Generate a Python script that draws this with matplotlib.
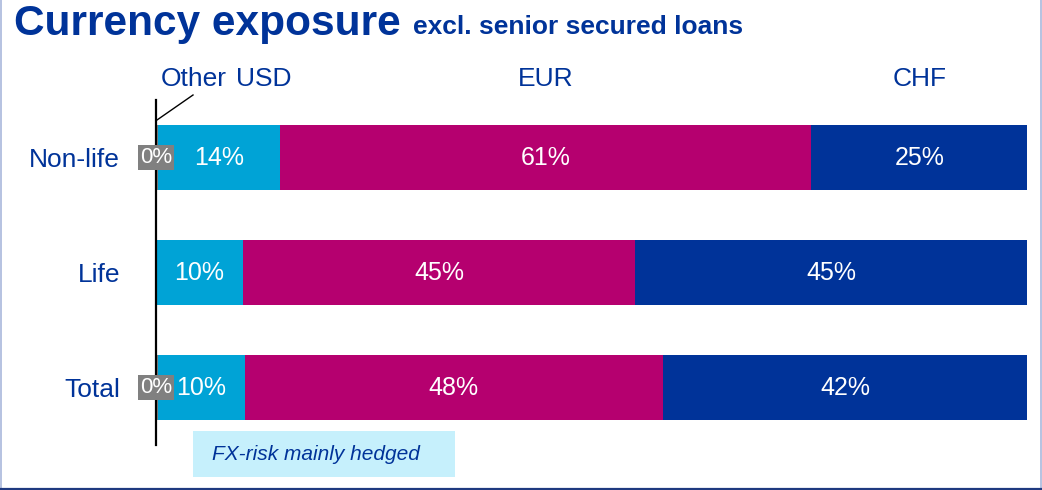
import matplotlib
import matplotlib.pyplot as plt
from matplotlib.lines import Line2D
from matplotlib.patches import Rectangle
from matplotlib.transforms import blended_transform_factory

matplotlib.rcParams["font.family"] = ["Liberation Sans", "DejaVu Sans"]

categories = ["Non-life", "Life", "Total"]
other = [0.2, 0.0, 0.2]
usd = [14, 10, 10]
eur = [61, 45, 48]
chf = [25, 45, 42]

NAVY = "#003399"
CYAN = "#00A3D6"
MAGENTA = "#B5006F"
GREY = "#808080"

W, H = 1042, 490
fig = plt.figure(figsize=(W / 100, H / 100), dpi=100)
ax = fig.add_axes([156 / W, 45 / H, 871 / W, 345 / H])

y = list(range(len(categories)))
bar_h = 0.565
left = [0.0] * len(y)
for vals, color in [(other, GREY), (usd, CYAN), (eur, MAGENTA), (chf, NAVY)]:
    ax.barh(y, vals, left=left, height=bar_h, color=color, edgecolor="none")
    if color != GREY:
        for yi, l, v in zip(y, left, vals):
            ax.text(l + v / 2, yi, f"{v:.0f}%", ha="center", va="center",
                    color="white", fontsize=18)
    left = [l + v for l, v in zip(left, vals)]

# "Other" is tiny, so its label sits in a grey box on the axis
for yi, v in zip(y, other):
    if v > 0:
        ax.text(0, yi, f"{v:.0f}%", ha="center", va="center", color="white",
                fontsize=16, zorder=5,
                bbox=dict(boxstyle="square,pad=0.1", fc=GREY, ec="none"))

ax.set_xlim(0, 100)
ax.set_ylim(len(y) - 0.5, -0.5)
ax.set_yticks(y)
ax.set_yticklabels(categories, color=NAVY, fontsize=19)
ax.tick_params(axis="y", length=0, pad=26)
ax.set_xticks([])
for side in ["top", "right", "bottom"]:
    ax.spines[side].set_visible(False)
ax.spines["left"].set_linewidth(1.6)
ax.spines["left"].set_color("black")
ax.spines["left"].set_zorder(4)

# column headers
blend = blended_transform_factory(ax.transData, fig.transFigure)
hy = 1 - 79 / H
ax.text(other[0] + usd[0] + eur[0] / 2, hy, "EUR", transform=blend,
        ha="center", va="center", color=NAVY, fontsize=19)
ax.text(other[0] + usd[0] + eur[0] + chf[0] / 2, hy, "CHF", transform=blend,
        ha="center", va="center", color=NAVY, fontsize=19)
fig.text(194 / W, hy, "Other", ha="center", va="center", color=NAVY, fontsize=19)
fig.text(264 / W, hy, "USD", ha="center", va="center", color=NAVY, fontsize=19)
fig.add_artist(Line2D([193 / W, 157 / W], [1 - 95 / H, 1 - 120 / H],
                      color="black", lw=1.0))

# title
fig.text(14 / W, 1 - 35 / H, "Currency exposure", ha="left", va="baseline",
         color=NAVY, fontsize=30.5, fontweight="bold")
fig.text(413 / W, 1 - 34 / H, "excl. senior secured loans", ha="left",
         va="baseline", color=NAVY, fontsize=19, fontweight="bold")

# note box
fig.add_artist(Rectangle((193 / W, 1 - 477 / H), 262 / W, 46 / H,
                         transform=fig.transFigure, fc="#C6F0FC", ec="none"))
fig.text(316 / W, 1 - 454 / H, "FX-risk mainly hedged", ha="center",
         va="center", color=NAVY, fontsize=15, style="italic")

# slide frame
fig.add_artist(Line2D([0.5 / W, 0.5 / W], [0, 1], color="#A9B8DC", lw=1.2))
fig.add_artist(Line2D([1040.5 / W, 1040.5 / W], [0, 1], color="#A9B8DC", lw=1.2))
fig.add_artist(Line2D([0, 1], [1.5 / H, 1.5 / H], color="#1F3A80", lw=1.6))

fig.savefig("out.png", dpi=100)
